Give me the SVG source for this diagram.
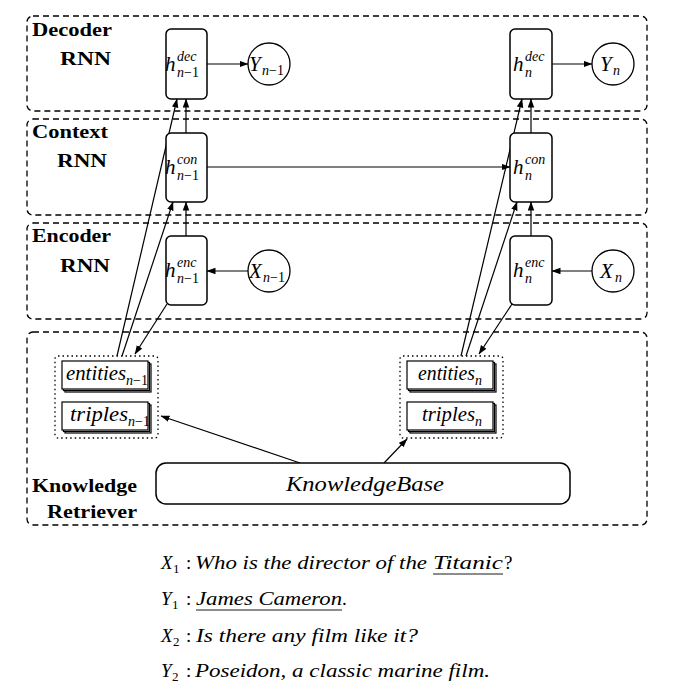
<svg xmlns="http://www.w3.org/2000/svg" width="681" height="696" viewBox="0 0 681 696">
<defs>
<marker id="arr" markerUnits="userSpaceOnUse" markerWidth="9" markerHeight="7" refX="8.5" refY="3.25" orient="auto">
<path d="M0,0 L9,3.25 L0,6.5 z" fill="#000"/>
</marker>
</defs>
<style>
.layer{fill:none;stroke:#000;stroke-width:1.3;stroke-dasharray:6 4}
.grp{fill:none;stroke:#000;stroke-width:1.3;stroke-dasharray:1.5 3}
.node{fill:#fff;stroke:#000;stroke-width:1.5}
.circ{fill:#fff;stroke:#000;stroke-width:1.3}
.stk{fill:#fff;stroke:#000;stroke-width:1.2}
text{font-family:'Liberation Serif','Times New Roman','DejaVu Serif',serif;fill:#000}
.lbl{font-weight:bold;font-size:19px}
.mi{font-style:italic}
.rm{font-style:normal}
.h{font-size:21px}
.s{font-size:14px}
.c{fill:none;stroke:#000;stroke-width:1.2}
</style>

<g id="layers">
<rect class="layer" x="27" y="16" width="620" height="95" rx="6"/>
<rect class="layer" x="27" y="119" width="620" height="96" rx="6"/>
<rect class="layer" x="27" y="223" width="620" height="96" rx="6"/>
<rect class="layer" x="27" y="332" width="620" height="193" rx="6"/>
<text class="lbl" x="32" y="36" textLength="80" lengthAdjust="spacingAndGlyphs">Decoder</text>
<text class="lbl" x="60" y="65" textLength="51" lengthAdjust="spacingAndGlyphs">RNN</text>
<text class="lbl" x="32" y="138" textLength="76" lengthAdjust="spacingAndGlyphs">Context</text>
<text class="lbl" x="57" y="167" textLength="50" lengthAdjust="spacingAndGlyphs">RNN</text>
<text class="lbl" x="32" y="242" textLength="79" lengthAdjust="spacingAndGlyphs">Encoder</text>
<text class="lbl" x="60" y="272" textLength="50" lengthAdjust="spacingAndGlyphs">RNN</text>
<text class="lbl" x="32" y="492" textLength="105" lengthAdjust="spacingAndGlyphs">Knowledge</text>
<text class="lbl" x="47" y="518" textLength="90" lengthAdjust="spacingAndGlyphs">Retriever</text>
</g>

<g id="connectors">
<line class="c" x1="207" y1="64" x2="248" y2="64" marker-end="url(#arr)"/>
<line class="c" x1="552" y1="64" x2="592" y2="64" marker-end="url(#arr)"/>
<line class="c" x1="248" y1="271" x2="207" y2="271" marker-end="url(#arr)"/>
<line class="c" x1="592" y1="271" x2="552" y2="271" marker-end="url(#arr)"/>
<line class="c" x1="207" y1="167" x2="510" y2="167" stroke-width="1" marker-end="url(#arr)"/>
<line class="c" x1="186" y1="133" x2="186" y2="99" marker-end="url(#arr)"/>
<line class="c" x1="186" y1="236" x2="186" y2="202" marker-end="url(#arr)"/>
<line class="c" x1="531" y1="133" x2="531" y2="99" marker-end="url(#arr)"/>
<line class="c" x1="531" y1="236" x2="531" y2="202" marker-end="url(#arr)"/>
<line class="c" x1="117" y1="356" x2="177" y2="99" marker-end="url(#arr)"/>
<line class="c" x1="122" y1="356" x2="173" y2="202" marker-end="url(#arr)"/>
<line class="c" x1="461" y1="356" x2="522" y2="99" marker-end="url(#arr)"/>
<line class="c" x1="466" y1="356" x2="517" y2="202" marker-end="url(#arr)"/>
<line class="c" x1="167" y1="304" x2="135" y2="354" marker-end="url(#arr)"/>
<line class="c" x1="512" y1="304" x2="479" y2="354" marker-end="url(#arr)"/>
<line class="c" x1="300" y1="463" x2="161" y2="416" marker-end="url(#arr)"/>
<line class="c" x1="384" y1="463" x2="407" y2="439" marker-end="url(#arr)"/>
</g>

<g id="h_dec_prev">
<rect class="node" x="166" y="29" width="41" height="70" rx="5"/>
<text class="mi h" x="165" y="71">h</text>
<text class="mi s" x="177" y="61">dec</text>
<text class="mi s" x="177" y="77">n<tspan class="rm">−1</tspan></text>
</g>
<g id="y_prev">
<circle class="circ" cx="269" cy="64" r="21"/>
<text class="mi h" x="249" y="71">Y</text>
<text class="mi s" x="262" y="75">n<tspan class="rm">−1</tspan></text>
</g>
<g id="h_dec_n">
<rect class="node" x="510" y="29" width="42" height="70" rx="5"/>
<text class="mi h" x="513" y="71">h</text>
<text class="mi s" x="525" y="61">dec</text>
<text class="mi s" x="525" y="77">n</text>
</g>
<g id="y_n">
<circle class="circ" cx="613" cy="64" r="21"/>
<text class="mi h" x="600" y="71">Y</text>
<text class="mi s" x="613" y="75">n</text>
</g>

<g id="h_con_prev">
<rect class="node" x="166" y="133" width="41" height="69" rx="5"/>
<text class="mi h" x="165" y="174">h</text>
<text class="mi s" x="177" y="164">con</text>
<text class="mi s" x="177" y="180">n<tspan class="rm">−1</tspan></text>
</g>
<g id="h_con_n">
<rect class="node" x="510" y="133" width="42" height="69" rx="5"/>
<text class="mi h" x="513" y="174">h</text>
<text class="mi s" x="525" y="164">con</text>
<text class="mi s" x="525" y="180">n</text>
</g>

<g id="h_enc_prev">
<rect class="node" x="166" y="236" width="41" height="69" rx="5"/>
<text class="mi h" x="165" y="277">h</text>
<text class="mi s" x="177" y="267">enc</text>
<text class="mi s" x="177" y="283">n<tspan class="rm">−1</tspan></text>
</g>
<g id="x_prev">
<circle class="circ" cx="269" cy="271" r="21"/>
<text class="mi h" x="249" y="278">X</text>
<text class="mi s" x="263" y="282">n<tspan class="rm">−1</tspan></text>
</g>
<g id="h_enc_n">
<rect class="node" x="510" y="236" width="42" height="69" rx="5"/>
<text class="mi h" x="513" y="277">h</text>
<text class="mi s" x="525" y="267">enc</text>
<text class="mi s" x="525" y="283">n</text>
</g>
<g id="x_n">
<circle class="circ" cx="613" cy="271" r="21"/>
<text class="mi h" x="600" y="278">X</text>
<text class="mi s" x="615" y="282">n</text>
</g>

<g id="retrieved_prev">
<rect class="grp" x="55" y="356" width="103" height="82" rx="3"/>
<rect class="stk" x="65" y="364" width="86" height="28"/>
<rect class="stk" x="63.5" y="362.5" width="86" height="28"/>
<rect class="stk" x="62" y="361" width="86" height="28"/>
<text class="mi" font-size="20" x="66" y="380" textLength="60" lengthAdjust="spacingAndGlyphs">entities</text>
<text class="mi s" x="126" y="385">n<tspan class="rm">−1</tspan></text>
<rect class="stk" x="65" y="405" width="86" height="28"/>
<rect class="stk" x="63.5" y="403.5" width="86" height="28"/>
<rect class="stk" x="62" y="402" width="86" height="28"/>
<text class="mi" font-size="20" x="70" y="421" textLength="58" lengthAdjust="spacingAndGlyphs">triples</text>
<text class="mi s" x="128" y="426">n<tspan class="rm">−1</tspan></text>
</g>

<g id="retrieved_n">
<rect class="grp" x="400" y="356" width="103" height="82" rx="3"/>
<rect class="stk" x="410" y="364" width="86" height="28"/>
<rect class="stk" x="408.5" y="362.5" width="86" height="28"/>
<rect class="stk" x="407" y="361" width="86" height="28"/>
<text class="mi" font-size="20" x="418" y="380" textLength="57" lengthAdjust="spacingAndGlyphs">entities</text>
<text class="mi s" x="475" y="385">n</text>
<rect class="stk" x="410" y="405" width="86" height="28"/>
<rect class="stk" x="408.5" y="403.5" width="86" height="28"/>
<rect class="stk" x="407" y="402" width="86" height="28"/>
<text class="mi" font-size="20" x="422" y="421" textLength="53" lengthAdjust="spacingAndGlyphs">triples</text>
<text class="mi s" x="475" y="426">n</text>
</g>

<g id="knowledge_base">
<rect class="node" x="156" y="463" width="414" height="41" rx="10"/>
<text class="mi" font-size="21" x="286" y="491" textLength="158" lengthAdjust="spacingAndGlyphs">KnowledgeBase</text>
</g>

<g id="dialogue">
<text class="mi" font-size="19" x="161" y="569">X</text>
<text class="rm" font-size="13" x="173" y="573">1</text>
<text class="rm" font-size="19" x="186" y="569">:</text>
<text class="mi" font-size="19" x="195" y="569" textLength="232" lengthAdjust="spacingAndGlyphs">Who is the director of the</text>
<text class="mi" font-size="19" x="433" y="569" textLength="70" lengthAdjust="spacingAndGlyphs">Titanic</text>
<line x1="433" y1="574" x2="503" y2="574" stroke="#000" stroke-width="0.9"/>
<text class="rm" font-size="19" x="504" y="569">?</text>

<text class="mi" font-size="19" x="161" y="605">Y</text>
<text class="rm" font-size="13" x="172" y="609">1</text>
<text class="rm" font-size="19" x="186" y="605">:</text>
<text class="mi" font-size="19" x="196" y="605" textLength="146" lengthAdjust="spacingAndGlyphs">James Cameron</text>
<line x1="196" y1="610" x2="342" y2="610" stroke="#000" stroke-width="0.9"/>
<text class="rm" font-size="19" x="342" y="605">.</text>

<text class="mi" font-size="19" x="161" y="642">X</text>
<text class="rm" font-size="13" x="173" y="646">2</text>
<text class="rm" font-size="19" x="186" y="642">:</text>
<text class="mi" font-size="19" x="196" y="642" textLength="222" lengthAdjust="spacingAndGlyphs">Is there any film like it?</text>

<text class="mi" font-size="19" x="161" y="677">Y</text>
<text class="rm" font-size="13" x="172" y="681">2</text>
<text class="rm" font-size="19" x="186" y="677">:</text>
<text class="mi" font-size="19" x="195" y="677" textLength="295" lengthAdjust="spacingAndGlyphs">Poseidon, a classic marine film.</text>
</g>
</svg>
